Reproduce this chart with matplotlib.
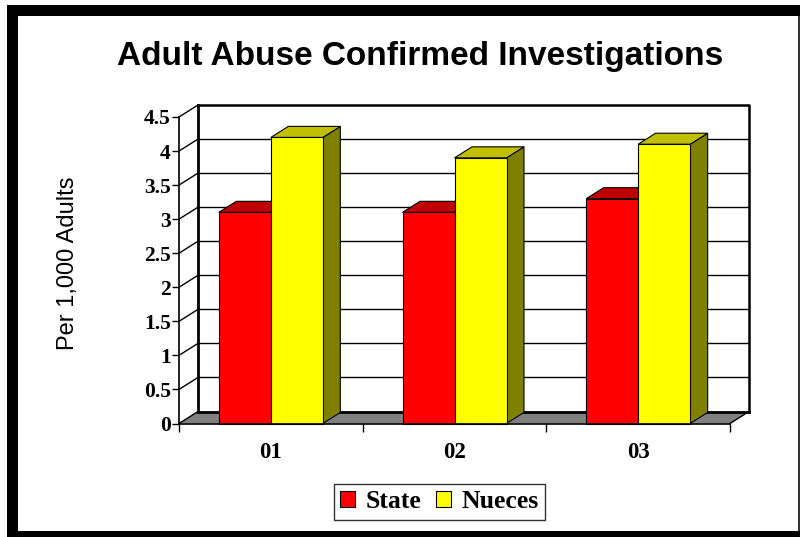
import matplotlib
matplotlib.use("Agg")
import matplotlib.pyplot as plt
from matplotlib.patches import Polygon, Rectangle, Patch
import matplotlib.font_manager as fm

# ---- data ----
categories = ["01", "02", "03"]
state_vals = [3.1, 3.1, 3.3]
nueces_vals = [4.2, 3.9, 4.1]
series_names = ["State", "Nueces"]
y_ticks = [0, 0.5, 1, 1.5, 2, 2.5, 3, 3.5, 4, 4.5]
y_tick_labels = ["0", "0.5", "1", "1.5", "2", "2.5", "3", "3.5", "4", "4.5"]
title = "Adult Abuse Confirmed Investigations"
y_label = "Per 1,000 Adults"

# ---- style ----
front_cols = ["#FF0000", "#FFFF00"]
top_cols = ["#C00000", "#C0C000"]
side_cols = ["#800000", "#808000"]
serif = ["Liberation Serif", "DejaVu Serif"]
avail = {f.name for f in fm.fontManager.ttflist}
narrow = "Liberation Sans Narrow" if "Liberation Sans Narrow" in avail else "Liberation Sans"

W, H = 800, 537
fig = plt.figure(figsize=(8, 5.37), dpi=100)
fig.patch.set_facecolor("white")

# frame
def frect(x0, y0, x1, y1, color):
    fig.patches.append(Rectangle((x0 / W, 1 - y1 / H), (x1 - x0) / W, (y1 - y0) / H,
                                 transform=fig.transFigure, color=color, lw=0, zorder=0))
frect(7, 5, 800, 16, "black")
frect(7, 5, 18, 537, "black")
frect(7, 531, 800, 537, "black")
frect(798, 16, 800, 531, "#333333")

# axes (front plane)
L, R, T, B = 179, 730, 117, 423.5
ax = fig.add_axes([L / W, 1 - B / H, (R - L) / W, (B - T) / H])
ax.set_xlim(-0.5, len(categories) - 0.5)
ax.set_ylim(0, 4.5)
ax.patch.set_alpha(0)
for s in ["top", "right"]:
    ax.spines[s].set_visible(False)
ax.spines["left"].set_linewidth(1.2)
ax.spines["bottom"].set_linewidth(1.2)
ax.spines["left"].set_zorder(10)
ax.spines["bottom"].set_zorder(10)

xpx = (R - L) / len(categories)
ypx = (B - T) / 4.5
DX = 19 / xpx
DY = 12 / ypx
x0, x1 = -0.5, len(categories) - 0.5

# back wall
ax.add_patch(Polygon([(x0 + DX, DY), (x1 + DX, DY), (x1 + DX, 4.5 + DY), (x0 + DX, 4.5 + DY)],
                     closed=True, facecolor="white", edgecolor="none", clip_on=False, zorder=1))
for v in y_ticks[1:-1]:
    ax.plot([x0 + DX, x1 + DX], [v + DY, v + DY], color="black", lw=1.0, clip_on=False, zorder=2)
    ax.plot([x0, x0 + DX], [v, v + DY], color="black", lw=1.0, clip_on=False, zorder=2)
ax.plot([x0 + DX, x1 + DX, x1 + DX], [4.5 + DY, 4.5 + DY, DY], color="black", lw=1.8,
        clip_on=False, zorder=3)
ax.plot([x0 + DX, x0 + DX], [DY, 4.5 + DY], color="black", lw=2.0, clip_on=False, zorder=3)
ax.plot([x0, x0 + DX], [4.5, 4.5 + DY], color="black", lw=1.0, clip_on=False, zorder=3)

# floor
ax.add_patch(Polygon([(x0, 0), (x1, 0), (x1 + DX, DY), (x0 + DX, DY)], closed=True,
                     facecolor="#808080", edgecolor="none", clip_on=False, zorder=2))
ax.plot([x0 + DX, x1 + DX], [DY, DY], color="black", lw=2.0, clip_on=False, zorder=3)
ax.plot([x1, x1 + DX], [0, DY], color="black", lw=1.0, clip_on=False, zorder=3)
ax.plot([x0, x0 + DX], [0, DY], color="black", lw=1.0, clip_on=False, zorder=3)

# bars
bw = 52 / xpx
bdx, bdy = DX * 0.92, DY * 0.92
z = 4
for i, cat in enumerate(categories):
    for j, vals in enumerate([state_vals, nueces_vals]):
        v = vals[i]
        xa = i - bw + j * bw
        xb = xa + bw
        side = Polygon([(xb, 0), (xb + bdx, bdy), (xb + bdx, v + bdy), (xb, v)], closed=True,
                       facecolor=side_cols[j], edgecolor="black", lw=0.8, clip_on=False, zorder=z)
        top = Polygon([(xa, v), (xb, v), (xb + bdx, v + bdy), (xa + bdx, v + bdy)], closed=True,
                      facecolor=top_cols[j], edgecolor="black", lw=0.8, clip_on=False, zorder=z)
        ax.add_patch(side)
        ax.add_patch(top)
        ax.bar(xa, v, width=bw, align="edge", color=front_cols[j], edgecolor="black",
               linewidth=0.8, zorder=z + 0.5, clip_on=False)
        z += 1

# ticks
ax.set_yticks(y_ticks)
ax.set_yticklabels(y_tick_labels, fontfamily=serif, fontweight="bold", fontsize=15.5)
ax.tick_params(axis="y", direction="out", length=5, width=1, pad=1)
ax.set_xticks(range(len(categories)))
ax.set_xticklabels(categories, fontfamily=serif, fontweight="bold", fontsize=16.5)
ax.tick_params(axis="x", which="major", length=0, pad=13)
ax.set_xticks([k - 0.5 for k in range(len(categories) + 1)], minor=True)
ax.tick_params(axis="x", which="minor", direction="out", length=6, width=1)

# texts
fig.text(420 / W, 1 - 56 / H, title, ha="center", va="center", fontsize=24,
         fontweight="bold", fontfamily="Liberation Sans")
fig.text(68 / W, 1 - 263 / H, y_label, ha="center", va="center", rotation=90,
         fontsize=17, fontfamily=narrow)

handles = [Patch(facecolor=front_cols[k], edgecolor="black", lw=0.8) for k in range(2)]
leg = fig.legend(handles, series_names, loc="center", bbox_to_anchor=(439.5 / W, 1 - 502 / H),
                 ncol=2, frameon=True, fancybox=False, edgecolor="black",
                 prop={"family": serif, "weight": "bold", "size": 18.5},
                 handlelength=0.58, handleheight=0.58, handletextpad=0.4, columnspacing=0.6,
                 borderpad=0.25, borderaxespad=0)
leg.get_frame().set_linewidth(1.0)

fig.savefig("out.png", dpi=100, facecolor="white")
